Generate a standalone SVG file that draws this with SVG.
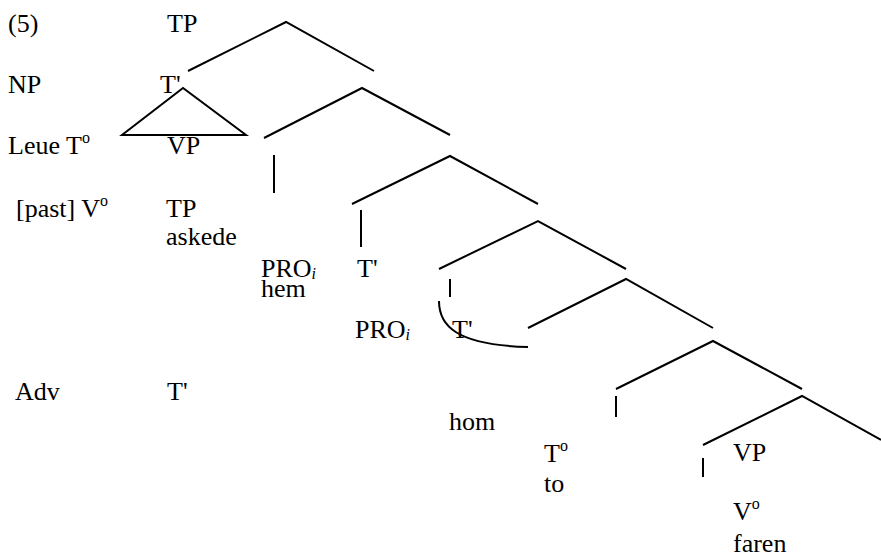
<svg xmlns="http://www.w3.org/2000/svg" width="881" height="560" viewBox="0 0 881 560">
<style>
.sup{font-size:16px}
.sub{font-size:16px;font-style:italic}
.ln{fill:none;stroke:#000;stroke-width:2}
</style>
<rect width="881" height="560" fill="#fff"/>
<g id="connectors" class="ln">
<polyline points="188,71 286,22 374,71"/>
<polygon points="183,88 122,135 246,135"/>
<polyline points="264,138 362,88 450,135"/>
<line x1="274" y1="155" x2="274" y2="193"/>
<polyline points="352,204 450,156 538,204"/>
<line x1="361" y1="210" x2="361" y2="247"/>
<polyline points="439,269 538,221 626,269"/>
<line x1="450" y1="279" x2="450" y2="297"/>
<path d="M439,301 C439,325 455,345 528,347"/>
<polyline points="528,328 626,279 713,328"/>
<polyline points="616,389 713,341 802,389"/>
<line x1="616" y1="396" x2="616" y2="417"/>
<polyline points="703,445 802,396 881,440"/>
<line x1="703" y1="458" x2="703" y2="477"/>
</g>
<g font-family="Liberation Serif, serif" font-size="26" fill="#000">
<g id="n-ex"><text x="8" y="32">(5)</text></g>
<g id="n-tp1"><text x="167" y="32">TP</text></g>
<g id="n-np"><text x="8" y="93">NP</text></g>
<g id="n-tbar1"><text x="160" y="93">T'</text></g>
<g id="n-leue"><text x="8" y="154">Leue<tspan x="66">T</tspan><tspan class="sup" dy="-11">o</tspan></text></g>
<g id="n-vp1"><text x="167" y="154">VP</text></g>
<g id="n-past"><text x="16" y="217">[past] V<tspan class="sup" dy="-11">o</tspan></text></g>
<g id="n-tp2"><text x="166" y="217">TP</text><text x="166" y="245">askede</text></g>
<g id="n-pro1"><text x="261" y="277">PRO<tspan class="sub" dy="2">i</tspan></text><text x="261" y="297">hem</text></g>
<g id="n-tbar2"><text x="357" y="277">T'</text></g>
<g id="n-pro2"><text x="355" y="338">PRO<tspan class="sub" dy="2">i</tspan></text></g>
<g id="n-tbar3"><text x="452" y="338">T'</text></g>
<g id="n-adv"><text x="15" y="400">Adv</text></g>
<g id="n-tbar4"><text x="167" y="400">T'</text></g>
<g id="n-hom"><text x="449" y="430">hom</text></g>
<g id="n-t0"><text x="544" y="462">T<tspan class="sup" dy="-11">o</tspan></text><text x="544" y="492">to</text></g>
<g id="n-vp2"><text x="733" y="461">VP</text></g>
<g id="n-v0"><text x="733" y="520">V<tspan class="sup" dy="-11">o</tspan></text><text x="733" y="552">faren</text></g>
</g>
</svg>
